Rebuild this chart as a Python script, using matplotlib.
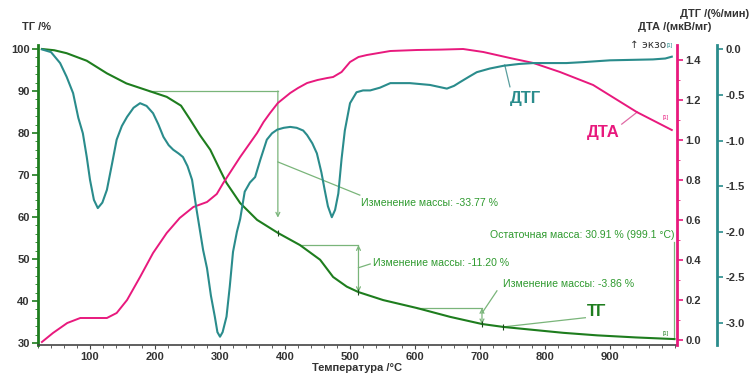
import matplotlib
matplotlib.use("Agg")
import matplotlib.pyplot as plt
from matplotlib.ticker import MultipleLocator, FormatStrFormatter

plt.rcParams["font.family"] = ["Liberation Sans", "DejaVu Sans"]

# TG, %
tg_temp = [26, 45, 64, 95, 126, 156, 187, 218, 240, 254, 269, 285, 300, 310,
           331, 357, 389, 423, 454, 474, 495, 513, 551, 603, 654, 703, 736,
           782, 828, 880, 940, 999.1]
tg_mass = [100.0, 99.7, 99.0, 97.2, 94.2, 91.8, 90.2, 88.6, 86.5, 83.2, 79.5,
           76.0, 71.2, 68.1, 63.3, 59.3, 56.2, 53.3, 49.8, 45.7, 43.4, 42.1,
           40.2, 38.3, 36.2, 34.5, 33.8, 33.1, 32.4, 31.8, 31.3, 30.91]

# DTG, %/min
dtg_temp = [26, 40, 54, 64, 74, 82, 89, 95, 100, 106, 112, 119, 126, 134, 141,
            149, 157, 167, 177, 187, 197, 205, 213, 221, 228, 236, 243, 250,
            257, 264, 274, 280, 286, 292, 296, 300, 304, 310, 315, 320, 326,
            331, 338, 346, 354, 362, 372, 380, 388, 398, 408, 418, 428, 434,
            442, 449, 456, 461, 466, 472, 477, 482, 487, 492, 500, 510, 520,
            531, 546, 562, 592, 623, 649, 660, 669, 683, 695, 715, 736, 760,
            782, 833, 858, 900, 966, 985, 995]
dtg_rate = [0.0, -0.03, -0.15, -0.30, -0.48, -0.75, -0.92, -1.18, -1.43, -1.65,
            -1.74, -1.68, -1.54, -1.25, -0.99, -0.84, -0.74, -0.64, -0.59,
            -0.62, -0.70, -0.82, -0.96, -1.05, -1.10, -1.14, -1.18, -1.28,
            -1.43, -1.76, -2.20, -2.40, -2.70, -2.93, -3.10, -3.15, -3.10,
            -2.93, -2.60, -2.22, -2.00, -1.86, -1.56, -1.46, -1.40, -1.21,
            -0.99, -0.92, -0.88, -0.86, -0.85, -0.86, -0.89, -0.94, -1.03,
            -1.14, -1.35, -1.54, -1.72, -1.84, -1.76, -1.58, -1.20, -0.89,
            -0.59, -0.47, -0.45, -0.45, -0.42, -0.37, -0.37, -0.39, -0.43,
            -0.40, -0.36, -0.30, -0.25, -0.21, -0.18, -0.16, -0.15, -0.15,
            -0.14, -0.12, -0.11, -0.10, -0.08]

# DTA, uV/mg
dta_temp = [26, 43, 65, 85, 105, 126, 141, 157, 177, 197, 218, 238, 259, 280,
            295, 305, 318, 331, 344, 357, 367, 377, 389, 408, 420, 434, 450,
            465, 474, 487, 500, 513, 526, 562, 603, 640, 674, 705, 746, 782,
            823, 874, 941, 995]
dta_signal = [-0.01, 0.035, 0.085, 0.11, 0.11, 0.11, 0.135, 0.20, 0.315, 0.435,
              0.535, 0.61, 0.665, 0.69, 0.73, 0.785, 0.85, 0.915, 0.975, 1.035,
              1.09, 1.135, 1.185, 1.235, 1.26, 1.285, 1.30, 1.31, 1.315, 1.34,
              1.39, 1.415, 1.425, 1.445, 1.45, 1.452, 1.455, 1.44, 1.41, 1.385,
              1.34, 1.275, 1.14, 1.05]

# mass-change steps
step_start = [190, 423, 603]
step_end = [389, 513, 703]
step_top = [90.0, 53.3, 38.3]
step_change = [-33.77, -11.20, -3.86]
residual_mass = 30.91
residual_temp = 999.1

C_TG = "#1e7d1e"
C_DTG = "#2a8c8c"
C_DTA = "#e8197d"
C_ANN = "#7ab57a"
C_TXT = "#2f9a2f"
C_LBL = "#333333"

W, H = 751, 380
fig = plt.figure(figsize=(W / 100, H / 100), dpi=100)
ax = fig.add_axes([38 / W, 1 - 345 / H, (677 - 38) / W, 300 / H])
ax2 = ax.twinx()
ax3 = ax.twinx()

ax.set_xlim(20, 1003)
ax.set_ylim(29.5, 100.95)
ax2.set_ylim(-0.025, 1.475)
ax3.set_ylim(-3.241, 0.048)

ax.plot(tg_temp, tg_mass, color=C_TG, lw=1.5, zorder=4)
ax2.plot(dta_temp, dta_signal, color=C_DTA, lw=1.4)
ax3.plot(dtg_temp, dtg_rate, color=C_DTG, lw=1.5)

# spines
for s in ["top", "right"]:
    ax.spines[s].set_visible(False)
ax.spines["left"].set_color(C_TG)
ax.spines["left"].set_linewidth(2)
ax.spines["bottom"].set_color("#444444")
ax.spines["bottom"].set_linewidth(1.2)
for a in (ax2, ax3):
    for s in ["top", "left", "bottom"]:
        a.spines[s].set_visible(False)
ax2.spines["right"].set_color(C_DTA)
ax2.spines["right"].set_linewidth(2)
ax3.spines["right"].set_color(C_DTG)
ax3.spines["right"].set_linewidth(2)
ax3.spines["right"].set_position(("outward", 29))  # points, ~40 px

tick_font = dict(labelsize=8, labelcolor=C_LBL, pad=2)
ax.set_xticks(range(100, 1000, 100))
ax.xaxis.set_minor_locator(MultipleLocator(20))
ax.tick_params(axis="x", which="major", length=3, color="#444444", **tick_font)
ax.tick_params(axis="x", which="minor", length=2, color="#444444")
ax.set_yticks(range(30, 101, 10))
ax.yaxis.set_minor_locator(MultipleLocator(2))
ax.tick_params(axis="y", which="major", length=4, color=C_TG, width=1.2, **tick_font)
ax.tick_params(axis="y", which="minor", length=2, color=C_TG)

ax2.set_yticks([0.0, 0.2, 0.4, 0.6, 0.8, 1.0, 1.2, 1.4])
ax2.yaxis.set_minor_locator(MultipleLocator(0.1))
ax2.tick_params(axis="y", which="major", length=4, color=C_DTA, width=1.2, **tick_font)
ax2.tick_params(axis="y", which="minor", length=2, color=C_DTA)
ax2.yaxis.set_major_formatter(FormatStrFormatter("%.1f"))

ax3.set_yticks([0.0, -0.5, -1.0, -1.5, -2.0, -2.5, -3.0])
ax3.tick_params(axis="y", which="major", length=4, color=C_DTG, width=1.2, **tick_font)
ax3.yaxis.set_major_formatter(FormatStrFormatter("%.1f"))

for a in (ax, ax2, ax3):
    for lab in a.get_xticklabels() + a.get_yticklabels():
        lab.set_fontweight("bold")

# mass change annotations
ann_kw = dict(color=C_ANN, lw=0.9)
txt_kw = dict(color=C_TXT, fontsize=7.6, va="center")
step_bottom = [t + c for t, c in zip(step_top, step_change)]

ax.plot([step_start[0], step_end[0]], [step_top[0], step_top[0]], **ann_kw)
ax.annotate("", xy=(step_end[0], step_bottom[0] + 3.6), xytext=(step_end[0], step_top[0]),
            arrowprops=dict(arrowstyle="->", color=C_ANN, lw=0.9, mutation_scale=7,
                            shrinkA=0, shrinkB=0))
ax.plot([step_end[0], 515], [73.1, 65.2], **ann_kw)
ax.text(517, 63.4, f"Изменение массы: {step_change[0]:.2f} %", **txt_kw)

for i in (1, 2):
    ax.plot([step_start[i], step_end[i]], [step_top[i], step_top[i]], **ann_kw)
    ax.annotate("", xy=(step_end[i], step_bottom[i]), xytext=(step_end[i], step_top[i]),
                arrowprops=dict(arrowstyle="<->", color=C_ANN, lw=0.9,
                                mutation_scale=7, shrinkA=0, shrinkB=0))
ax.plot([step_end[1], 531], [47.9, 48.8], **ann_kw)
ax.text(535, 49.0, f"Изменение массы: {step_change[1]:.2f} %", **txt_kw)
ax.plot([step_end[2], 726], [37.1, 42.4], **ann_kw)
ax.text(735, 44.0, f"Изменение массы: {step_change[2]:.2f} %", **txt_kw)

ax.plot([residual_temp, residual_temp], [residual_mass, 54.0], **ann_kw)
ax.text(residual_temp, 55.6, f"Остаточная масса: {residual_mass:.2f} % ({residual_temp:.1f} °C)",
        ha="right", **txt_kw)

# small marks where annotations touch the curves
ax.plot(step_end, step_bottom, ls="none", marker="|", ms=4, mew=0.8, color="#1a4a1a", zorder=5)
ax.plot([736], [33.8], ls="none", marker="|", ms=4, mew=0.8, color="#1a4a1a", zorder=5)

# curve labels
ax.plot([735, 862], [33.8, 36.0], **ann_kw)
ax.text(865, 37.4, "ТГ", color=C_TG, fontsize=12, fontweight="bold", va="center")
ax.plot([738, 746], [96.2, 91.0], color="#5a9e9e", lw=0.9)
ax.text(746, 88.3, "ДТГ", color=C_DTG, fontsize=12, fontweight="bold", va="center")
ax.plot([942, 918], [85.0, 82.1], color="#e06aa5", lw=0.9)
ax.text(865, 80.0, "ДТА", color=C_DTA, fontsize=12, fontweight="bold", va="center")

ax.text(986, 31.9, "[1]", color=C_TG, fontsize=4, ha="center")
ax.text(985, 83.3, "[1]", color=C_DTA, fontsize=4, ha="center")
ax.text(992, 100.4, "[1]", color=C_DTG, fontsize=4, ha="center")

# axis titles
lab_kw = dict(fontsize=8, fontweight="bold", color=C_LBL, va="center")
fig.text(22 / W, 1 - 27 / H, "ТГ /%", **lab_kw)
fig.text(749 / W, 1 - 14 / H, "ДТГ /(%/мин)", ha="right", **lab_kw)
fig.text(711 / W, 1 - 27 / H, "ДТА /(мкВ/мг)", ha="right", **lab_kw)
fig.text(630 / W, 1 - 45 / H, "↑ экзо", fontsize=7.5, color=C_LBL, va="center",
         family=["DejaVu Sans"])
fig.text(357 / W, 1 - 368 / H, "Температура /°C", ha="center", **lab_kw)

fig.savefig("out.png", dpi=100)
